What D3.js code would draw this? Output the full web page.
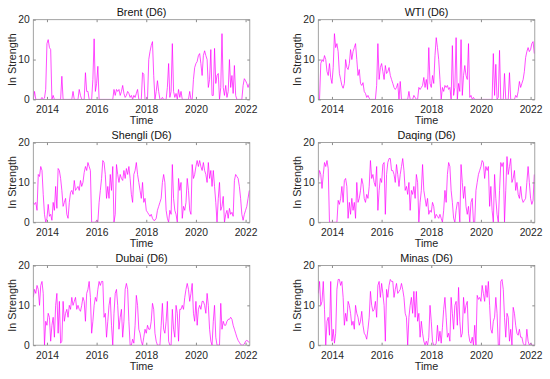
<!DOCTYPE html>
<html>
<head>
<meta charset="utf-8">
<script src="https://cdn.jsdelivr.net/npm/d3@7"></script>
<style>
  html, body { margin: 0; padding: 0; background: #fff; }
  svg { display: block; font-family: "Liberation Sans", Arial, sans-serif; }
</style>
</head>
<body>
<svg id="chart" width="550" height="379"></svg>
<script>
'use strict';

var panelTitles = ["Brent (D6)", "WTI (D6)", "Shengli (D6)", "Daqing (D6)", "Dubai (D6)", "Minas (D6)"];
var xTickYears = [2014, 2016, 2018, 2020, 2022];
var yTickValues = [0, 10, 20];

// samples are spaced evenly in decimal years
var sampleStart = 2013.45;
var sampleStep = 0.05;

var brent = [0, 2, 0, 0, 0, 0, 0, 0.5, 0, 0.3, 2.5,
    14, 15, 13, 12.5, 0, 1, 0, 0, 0, 0, 0, 0, 5.8, 0, 0, 0, 0, 0, 0, 0,
    0, 2, 0, 0, 0, 0, 2.5, 1, 0, 0, 0, 6.7, 2, 2, 0, 0, 0, 5, 15.2, 2,
    4, 8.3, 0, 0, 0, 0, 0, 0, 0, 0, 0, 0, 0, 0, 2.5, 1, 2.5, 2, 2.5, 1,
    2, 3.5, 1.5, 0.5, 1, 2, 1.5, 0.5, 1, 0, 1, 0.5, 1.5, 2.5, 0, 0, 0, 6.7, 6.3, 0,
    0, 0, 10, 12, 13.5, 14.5, 6, 0, 2, 4.7, 2, 0, 0, 0.5, 0, 0, 0, 3, 9, 0.5,
    2, 14, 2, 0.5, 1.5, 0, 2.5, 0.5, 2, 0, 0, 0, 0, 0, 0, 2, 0, 0, 5, 8,
    9, 9.5, 11, 11.5, 9, 6, 11, 12.2, 11, 10, 3, 5, 12.5, 1, 1, 12.8, 4, 6, 6.5, 0,
    3, 16.5, 3, 1, 3.5, 0.5, 2, 10, 3, 6, 1.5, 8.5, 1, 0, 0, 0, 0, 0, 3.5, 5.2,
    4.7, 4, 3, 4];

var wti = [0, 0, 9, 10, 9.5, 11, 10, 7, 6, 9, 5.5,
    4, 8, 16.5, 13, 14, 12, 6.5, 5, 3.5, 2.8, 4, 10, 8, 7.5, 9, 12.5, 10, 12, 13, 14,
    10, 6, 7.5, 4, 3.5, 4.2, 2, 1.5, 0.5, 1, 0.3, 0, 0, 0, 0, 0, 3.5, 14, 5, 8,
    9, 7, 5, 8.5, 6.5, 7, 8, 6, 5, 4, 3, 2.5, 3, 4, 0, 4.5, 0, 0, 0, 0,
    0, 0, 2, 0, 0, 0, 1, 0.5, 0, 0, 3, 2.5, 3, 3.5, 5.5, 3, 5, 2.5, 13, 4,
    3, 6, 4, 11, 15.5, 13, 10, 5, 0, 3, 2, 3.5, 3, 3.5, 2.5, 3, 0, 13.5, 1, 3,
    15.5, 0, 4, 2, 15, 1, 6, 8.5, 6, 5, 14, 0.5, 1, 0, 0.5, 0, 0, 0, 0, 0,
    0, 0, 0, 0, 0, 0, 0, 0, 0, 0, 11.5, 1, 8.8, 0, 0.5, 12.3, 0, 0, 0, 6.5,
    0, 0, 0, 6.7, 0, 0, 0, 0, 1, 0.5, 2, 4.5, 3, 4, 5, 7, 10.5, 12, 13, 12,
    12.5, 14, 14.5, 11.5];

var shengli = [5, 4.5, 5, 3, 12, 11.5, 14, 13, 7, 2,
    0, 1, 4.5, 1.5, 2, 0.5, 5, 3, 9, 3.5,
    13.5, 13, 11, 8, 4, 5, 6, 2, 1, 5,
    7.5, 8, 7, 10.5, 8, 8.5, 9, 8, 10.5, 9,
    10, 12.5, 14, 13, 15, 14, 13, 0, 0, 0,
    0, 0.5, 0, 5, 8, 11, 15.5, 15, 12, 6,
    9, 6, 12, 8, 14, 0, 2, 14.5, 12, 10,
    12, 11, 10.5, 13, 11, 13.5, 12, 14, 11, 7,
    5, 12, 13, 15, 12, 10, 8, 6, 10, 5,
    6, 3, 2.5, 2, 1.5, 2, 1, 0.5, 0.5, 1,
    3, 4, 5, 6, 10, 12, 10, 3, 1, 0,
    3, 2, 14.5, 6, 3, 2, 0, 11, 8, 10,
    1, 4, 3, 5, 11, 8, 3, 2, 14.5, 11,
    12, 14, 15.5, 14, 15.5, 14, 13, 15, 13, 12,
    10, 15, 11, 13, 9, 13, 9, 5, 0, 6,
    10, 3, 4, 6.5, 0, 2, 3, 1, 3.5, 2,
    2.5, 1.5, 10.5, 12, 11.5, 11, 9, 6, 2, 0.5,
    2, 3, 4, 6, 8];

var daqing = [10.5, 13, 12, 8.5, 12, 15, 14, 15.5, 13.5, 0,
    0, 0, 0, 0, 0, 0, 5.5, 4.5, 6, 9,
    5, 10.5, 11, 9, 1, 5, 2, 6, 3, 5,
    1, 10, 5, 6, 8, 11, 9.5, 6, 5, 7,
    6, 9, 15.5, 11, 12, 10, 9, 14, 3, 8,
    11, 10, 14.5, 15, 2, 12, 15, 16, 16, 13,
    13, 12, 10, 14.5, 12, 9, 12, 14, 16, 13,
    8, 9, 7, 10, 3, 8, 7, 9, 6, 12,
    10, 0, 5, 8, 14.5, 8, 6, 4, 6, 2,
    3, 2.5, 5, 4, 1, 2, 1.5, 1, 2, 1,
    0, 3, 8, 5, 12, 15, 14, 8, 5, 1,
    0, 3, 5, 5, 0, 14.5, 10, 6, 9, 4,
    2, 4, 0, 5, 6, 0, 0, 8, 10, 12,
    13, 14, 15.5, 15, 11, 14, 13, 14, 4, 9,
    3, 0, 12, 6, 2, 0, 8, 15, 14, 15,
    0, 8, 16.5, 12, 14, 16, 10, 11, 13, 8,
    10, 7, 6, 9, 6, 5, 5.5, 6, 10, 14,
    10, 6, 4.5, 5.5, 12];

var dubai = [12, 14, 13, 15, 14, 10, 15, 16, 13, 0,
    6, 5, 8, 7, 1, 5, 7, 2, 10, 13,
    3, 11, 0.5, 1, 11, 6, 8, 9, 7, 10,
    9, 12, 10, 11, 12, 9, 10, 9, 8.5, 10,
    12, 11, 6, 13, 14, 16, 12, 3, 6, 10,
    12, 11, 14, 16, 15, 16, 16, 7, 8, 2,
    6, 10, 12, 5, 0, 8, 13, 14, 10, 4,
    7, 9, 2, 6, 14, 15.5, 14, 6, 0, 0,
    1.5, 0.5, 5, 12.5, 10, 4, 3, 1, 0, 2,
    4, 3, 5, 4, 4, 6, 10.5, 9, 3, 1,
    0, 0, 0, 5, 10.5, 4, 3, 6, 11, 1,
    0, 0, 9, 4, 2, 10, 8, 1, 9, 9,
    10, 9, 12, 14, 15.5, 14, 11, 13, 15.5, 8,
    6, 11, 5, 9, 10, 9, 11, 11, 10, 8,
    13, 10, 4, 1, 0, 6, 10, 2, 0, 0,
    0, 10.5, 4, 6, 5, 5, 6, 6.5, 6.5, 7,
    6.5, 5, 4, 3, 2, 1.2, 0.7, 0.2, 0, 0,
    0.3, 1, 1.2, 1, 0.6];

var minas = [13, 16, 10, 11, 16, 9, 0, 6, 7, 2.5,
    16, 1, 4, 0.5, 3, 14, 16.5, 16.5, 15, 16,
    12, 5, 8, 6, 11, 10, 8, 5, 6, 4,
    10, 8, 7, 5, 6, 8.5, 5, 3, 2.5, 1.5,
    4, 7, 13.5, 10, 8.5, 9, 11, 7, 15, 16,
    12, 15.5, 13, 10, 1, 14, 12, 15, 16.5, 16,
    16, 12, 14, 15.5, 13, 13.5, 14, 15.5, 14, 12,
    8, 7, 0, 7, 10, 12, 8, 13.5, 7, 13.5,
    6, 8, 2, 6, 3, 1, 0, 1, 0, 2,
    10, 6, 1, 0, 0, 0.5, 5, 1, 3.5, 0.5,
    4.5, 9, 12, 7, 2, 3, 1, 12, 8, 4,
    10, 11, 5, 14.5, 6, 2, 3, 12, 8, 10,
    11, 3, 1, 0.5, 2, 0, 5, 0, 12.5, 11.5,
    12, 11, 15, 13, 11, 15, 12, 16, 10, 4,
    3, 6, 7, 12, 8, 0, 0, 16, 16.5, 14,
    7, 2, 8, 7, 1, 4, 0, 9.5, 8, 5,
    3, 2.5, 4, 2, 2, 0.5, 0, 0, 4, 1,
    0, 0.5, 0, 0, 0];

var panelSeries = [brent, wti, shengli, daqing, dubai, minas];

var colLeft = [33.3, 318.3];
var rowTop = [19.7, 142.6, 265.5];
var plotWidth = 216.5;
var plotHeight = 79.7;

var boxColor = "#8c8c8c";
var textColor = "#262626";
var lineColor = "#ff00ff";

var svg = d3.select("#chart");

function styleAxis(g) {
    g.select(".domain").remove();
    g.selectAll(".tick line").attr("stroke", boxColor);
    g.selectAll(".tick text")
        .attr("fill", textColor)
        .attr("font-size", "10.3px");
}

function drawPanel(idx) {
    var left = colLeft[idx % 2];
    var top = rowTop[Math.floor(idx / 2)];
    var values = panelSeries[idx];

    var x = d3.scaleLinear()
        .domain([2013.45, 2022.17])
        .range([0, plotWidth]);
    var y = d3.scaleLinear()
        .domain([0, 20])
        .range([plotHeight, 0]);

    var g = svg.append("g")
        .attr("transform", "translate(" + left + "," + top + ")");

    g.append("clipPath")
        .attr("id", "clip" + idx)
        .append("rect")
        .attr("width", plotWidth)
        .attr("height", plotHeight);

    var line = d3.line()
        .x(function (d, i) { return x(sampleStart + i * sampleStep); })
        .y(function (d) { return y(d); });

    g.append("path")
        .datum(values)
        .attr("clip-path", "url(#clip" + idx + ")")
        .attr("fill", "none")
        .attr("stroke", lineColor)
        .attr("stroke-width", 0.7)
        .attr("stroke-linejoin", "round")
        .attr("d", line);

    // ticks point inward like MATLAB
    g.append("g")
        .attr("transform", "translate(0," + plotHeight + ")")
        .call(d3.axisBottom(x).tickValues(xTickYears).tickFormat(d3.format("d"))
            .tickSizeInner(-2.5).tickSizeOuter(0).tickPadding(6))
        .call(styleAxis);

    g.append("g")
        .call(d3.axisTop(x).tickValues(xTickYears).tickFormat("")
            .tickSizeInner(-2.5).tickSizeOuter(0))
        .call(styleAxis);

    g.append("g")
        .call(d3.axisLeft(y).tickValues(yTickValues)
            .tickSizeInner(-2.5).tickSizeOuter(0).tickPadding(3.5))
        .call(styleAxis);

    g.append("g")
        .attr("transform", "translate(" + plotWidth + ",0)")
        .call(d3.axisRight(y).tickValues(yTickValues).tickFormat("")
            .tickSizeInner(-2.5).tickSizeOuter(0))
        .call(styleAxis);

    g.append("rect")
        .attr("width", plotWidth)
        .attr("height", plotHeight)
        .attr("fill", "none")
        .attr("stroke", boxColor)
        .attr("stroke-width", 0.8);

    g.append("text")
        .attr("x", plotWidth / 2)
        .attr("y", -3.5)
        .attr("text-anchor", "middle")
        .attr("font-size", "10.8px")
        .attr("fill", "#111")
        .text(panelTitles[idx]);

    g.append("text")
        .attr("x", plotWidth / 2)
        .attr("y", plotHeight + 25)
        .attr("text-anchor", "middle")
        .attr("font-size", "10.8px")
        .attr("fill", textColor)
        .text("Time");

    g.append("text")
        .attr("transform", "translate(-17," + (plotHeight / 2) + ") rotate(-90)")
        .attr("text-anchor", "middle")
        .attr("font-size", "10.8px")
        .attr("fill", textColor)
        .text("In Strength");
}

panelSeries.forEach(function (s, i) {
    drawPanel(i);
});
</script>
</body>
</html>
